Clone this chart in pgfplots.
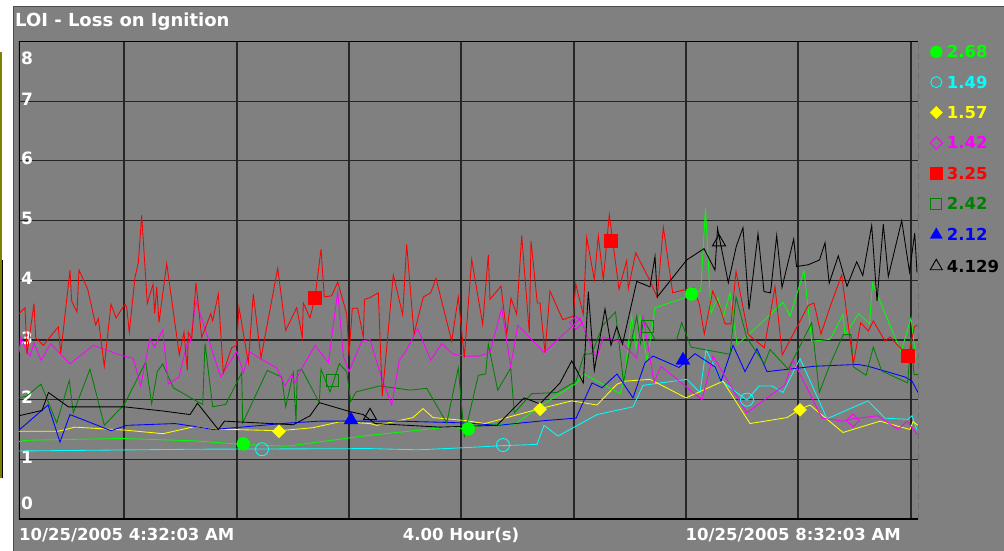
\documentclass[border=0pt]{standalone}
\usepackage{pgfplots}
\pgfplotsset{compat=1.18}
\usepackage{fontspec}
\setmainfont{DejaVu Sans}
\definecolor{bg}{RGB}{128,128,128}
\definecolor{cLime}{RGB}{0,255,0}
\definecolor{cCyan}{RGB}{0,255,255}
\definecolor{cYellow}{RGB}{255,255,0}
\definecolor{cMag}{RGB}{255,0,255}
\definecolor{cRed}{RGB}{255,0,0}
\definecolor{cDkG}{RGB}{0,128,0}
\definecolor{cBlue}{RGB}{0,0,255}
\definecolor{cOlive}{RGB}{128,128,0}
\begin{document}
\begin{tikzpicture}[x=1pt,y=1pt]
\path[use as bounding box] (0,0) rectangle (1004,551);
\fill[white] (0,0) rectangle (1004,551);
\fill[bg] (13,0) rectangle (1004,544);
\draw[black!70, line width=1pt] (13.5,0) -- (13.5,544) -- (1004,544);
\draw[cOlive, line width=2.5pt] (1.2,499) -- (1.2,73);
\draw[black, line width=1pt] (2.6,291) -- (2.6,73);
\node[anchor=west, inner sep=0pt, text=white, font=\bfseries\fontsize{18}{20}\selectfont] at (15,529) {LOI - Loss on Ignition};
\node[anchor=west, inner sep=0pt, text=white, font=\bfseries\fontsize{16.5}{18}\selectfont] at (19,16) {10/25/2005 4:32:03 AM};
\node[inner sep=0pt, text=white, font=\bfseries\fontsize{16.5}{18}\selectfont] at (461,16) {4.00 Hour(s)};
\node[anchor=east, inner sep=0pt, text=white, font=\bfseries\fontsize{16.5}{18}\selectfont] at (901,16) {10/25/2005 8:32:03 AM};
\begin{axis}[at={(19,53.5)}, anchor=south west, scale only axis, width=899pt, height=477.6pt,
  xmin=19, xmax=918, ymin=0, ymax=8,
  axis line style={draw=none},
  xtick={124,237,349,461,574,686,798,911}, ytick={0,1,2,3,4,5,6,7,8},
  xticklabels={}, yticklabels={}, major tick length=0pt,
  grid=major, major grid style={black!85, line width=1.1pt},
  legend style={at={(axis cs:930,7.93)}, anchor=north west, draw=none, fill=none, inner sep=0pt,
    row sep=18.3pt, nodes={inner sep=0pt, text height=12pt, text depth=0pt},
    font=\bfseries\fontsize{16.5}{18}\selectfont,
    /tikz/every odd column/.append style={column sep=4.5pt}},
  legend cell align=left]
\draw[black, line width=1.2pt] (axis cs:19,8) -- (axis cs:19,0) -- (axis cs:918,0);
\draw[black, line width=1.2pt] (axis cs:19,8) -- (axis cs:918,8);
\draw[black, line width=1pt, dash pattern=on 6pt off 4pt] (axis cs:918,0) -- (axis cs:918,8);
\node[anchor=west, inner sep=0pt, text=white, font=\bfseries\fontsize{17}{18}\selectfont] at (axis cs:21,0.27) {0};
\node[anchor=west, inner sep=0pt, text=white, font=\bfseries\fontsize{17}{18}\selectfont] at (axis cs:21,1.035) {1};
\node[anchor=west, inner sep=0pt, text=white, font=\bfseries\fontsize{17}{18}\selectfont] at (axis cs:21,2.035) {2};
\node[anchor=west, inner sep=0pt, text=white, font=\bfseries\fontsize{17}{18}\selectfont] at (axis cs:21,3.035) {3};
\node[anchor=west, inner sep=0pt, text=white, font=\bfseries\fontsize{17}{18}\selectfont] at (axis cs:21,4.035) {4};
\node[anchor=west, inner sep=0pt, text=white, font=\bfseries\fontsize{17}{18}\selectfont] at (axis cs:21,5.035) {5};
\node[anchor=west, inner sep=0pt, text=white, font=\bfseries\fontsize{17}{18}\selectfont] at (axis cs:21,6.035) {6};
\node[anchor=west, inner sep=0pt, text=white, font=\bfseries\fontsize{17}{18}\selectfont] at (axis cs:21,7.035) {7};
\node[anchor=west, inner sep=0pt, text=white, font=\bfseries\fontsize{17}{18}\selectfont] at (axis cs:21,7.72) {8};
% cyan
\addplot[cCyan, line width=0.85pt, forget plot] coordinates {
(19,1.14) (195,1.17) (370,1.18) (418,1.16) (458,1.19) (503,1.23) (537,1.25) (544,1.57) (558,1.39) (597,1.75) (633,1.88) (643,2.24) (687,2.34) (700,2.12) (706,2.84) (721,2.32) (747,1.99) (759,2.23) (772,2.23) (783,2.12) (800,2.69) (827,1.68) (868,1.98) (885,1.69) (908,1.67) (912,1.73) (917,1.49)};
% yellow
\addplot[cYellow, line width=0.85pt, forget plot] coordinates {
(19,1.47) (58,1.47) (75,1.54) (125,1.49) (163,1.43) (195,1.55) (210,1.51) (279,1.48) (313,1.53) (340,1.63) (370,1.60) (377,1.57) (413,1.70) (423,1.85) (433,1.70) (465,1.65) (485,1.60) (540,1.85) (572,1.98) (597,1.91) (617,2.26) (625,2.31) (650,2.34) (686,2.03) (723,2.31) (750,1.60) (787,1.70) (800,1.84) (810,1.91) (843,1.45) (880,1.64) (910,1.50) (913,1.63) (918,1.57)};
% lime
\addplot[cLime, line width=0.85pt, forget plot] coordinates {
(19,1.30) (27,1.32) (122,1.35) (195,1.31) (243,1.25) (287,1.22) (368,1.40) (448,1.54) (468,1.51) (485,1.58) (515,1.59) (543,1.92) (576,2.27) (584,2.43) (620,2.10) (624,2.31) (631.7,3.40) (636,2.85) (640,3.40) (647,2.65) (655,3.54) (680,3.68) (691.7,3.76) (700.7,3.82) (705.5,5.21) (711,3.45) (718,3.71) (723,3.37) (730,3.79) (737,2.92) (757,3.22) (783,3.63) (790,3.40) (804,4.16) (811.7,2.98) (830,3.01) (843,3.43) (845,3.09) (858.5,3.44) (869.5,3.27) (872.5,3.95) (901,2.80) (911,3.37) (916,2.68)};
% blue
\addplot[cBlue, line width=0.85pt, forget plot] coordinates {
(19,1.49) (48,1.91) (60,1.29) (70,1.75) (111,1.48) (127,1.57) (175,1.60) (195,1.55) (213,1.50) (290,1.61) (320,1.64) (351,1.64) (400,1.64) (465,1.61) (498,1.57) (545,1.65) (576,1.69) (592,2.28) (602,2.20) (617,2.43) (633,2.03) (645,2.62) (653,2.73) (679,2.54) (695,2.77) (715,2.55) (721,2.31) (733,2.91) (745,2.47) (757,2.85) (767,2.47) (815,2.56) (858,2.59) (868,2.56) (905,2.38) (912,2.31) (918,2.12)};
% dark green
\addplot[cDkG, line width=0.85pt, forget plot] coordinates {
(19,2.03) (26.7,2.06) (41,2.26) (56.7,1.61) (69.3,2.32) (73.3,1.78) (90,2.51) (104.3,1.57) (124.3,1.92) (145.7,2.63) (151.7,1.93) (157.3,2.47) (162.7,2.60) (173.3,2.20) (195,1.99) (202.7,1.92) (205,2.94) (212.7,1.88) (225.7,1.92) (241.7,2.45) (242.7,1.61) (267.3,2.49) (281.7,2.38) (285.7,1.88) (293.3,2.45) (296,1.63) (297.3,2.48) (301.7,2.51) (319.3,1.95) (321,2.51) (330,2.13) (339.3,2.60) (346.7,2.47) (350.7,1.97) (356,2.13) (380,2.23) (410,2.16) (426.7,2.19) (446.7,1.61) (458.3,2.53) (464.3,1.39) (478.3,2.41) (485.7,2.43) (488.3,2.93) (497.7,2.16) (510.7,2.53) (514.3,1.78) (531.7,2.10) (556.7,2.12) (576,2.31) (584,2.76) (591.7,2.77) (603,3.25) (615.5,3.47) (623.5,2.29) (630,2.87) (636.7,3.40) (640.5,2.95) (643.3,3.34) (655,3.01) (676.7,3.01) (681.7,3.29) (691,2.88) (730,2.76) (736,3.72) (746.7,3.04) (764.3,2.60) (770,2.84) (788.3,2.51) (811.7,3.29) (819.3,2.12) (830,2.59) (843.3,3.09) (851,3.09) (853.3,2.55) (866,2.41) (873.3,2.88) (881.7,2.48) (907.7,2.28) (911,3.05) (914,2.42) (918,2.42)};
% magenta
\addplot[cMag, line width=0.85pt, forget plot] coordinates {
(19,2.79) (21,3.05) (25,2.87) (30,2.73) (34,2.95) (41,2.66) (50.7,2.94) (60.7,2.76) (70,2.60) (93.3,2.91) (120,2.75) (133.3,2.69) (140.7,2.23) (150,3.03) (154.3,2.88) (162.7,3.17) (168.3,2.26) (179,2.38) (187.7,2.98) (190,2.95) (196,3.65) (220.7,2.38) (236.7,2.81) (243.3,2.45) (249.3,2.80) (276.7,2.53) (285,2.23) (291.7,2.42) (295,2.28) (300,2.47) (315,2.91) (328.3,2.62) (337.7,3.81) (343.3,2.73) (349,2.47) (361.7,2.98) (370,3.01) (381,2.40) (391.7,1.91) (399.3,2.66) (405,2.79) (417.7,3.19) (430.7,2.66) (441.7,2.94) (453.3,2.76) (465,2.73) (478.3,2.73) (490,2.79) (501.7,3.53) (510.7,2.55) (517.7,3.25) (544,2.79) (576,3.29) (580,3.37) (593.3,2.81) (596.7,2.70) (603.3,3.05) (620,2.98) (636.7,2.70) (643,3.40) (654,2.29) (661,2.56) (702,2.00) (713,2.73) (746.7,1.78) (785,2.25) (793,2.66) (822,1.69) (843,1.64) (853,1.68) (878,1.73) (898,1.50) (907,1.64) (917,1.42)};
% red
\addplot[cRed, line width=0.85pt, forget plot] coordinates {
(19,3.44) (25,3.54) (27,2.76) (34,3.61) (35.7,3.04) (43.3,2.91) (58.3,3.22) (60.7,2.77) (70,4.17) (71.7,3.65) (77,3.47) (79,4.17) (87.7,3.85) (95.7,3.25) (98.3,3.36) (104.3,2.56) (111,3.60) (116,3.37) (125,3.60) (126.7,3.55) (129.3,3.13) (135,4.05) (138.3,4.29) (141.7,5.09) (147.3,3.61) (153,3.93) (154.7,3.44) (156.7,3.89) (159,3.29) (166.7,4.28) (179.3,2.75) (184,3.13) (187.3,2.49) (188.3,3.13) (191.7,3.01) (196,3.96) (201.7,3.04) (210.7,3.44) (212.7,3.32) (218.3,3.77) (223.3,2.45) (231.7,2.87) (236.7,2.91) (239,3.55) (248.3,2.62) (253.3,3.77) (261,2.70) (277.7,4.20) (285.7,3.16) (296.7,3.54) (302.3,3.04) (303.3,3.62) (310,3.37) (315,3.71) (321,4.52) (324.3,3.72) (331.7,3.74) (337.7,3.97) (346.7,3.44) (349,2.73) (352.3,3.53) (357.7,3.53) (363.3,3.05) (364.5,3.68) (370,3.71) (378.3,3.79) (382.3,2.06) (393.3,4.09) (402.7,3.42) (406.7,4.60) (414,3.10) (423.3,3.72) (430.7,3.79) (436,4.03) (451.7,2.98) (458.3,3.72) (464.3,2.71) (471.7,4.35) (482.7,3.26) (488.3,4.43) (490,3.68) (501,3.90) (506.7,3.09) (511,3.70) (516.7,3.43) (521.7,4.75) (529.3,3.12) (531,4.66) (537.3,3.62) (540,3.62) (545,2.79) (550,3.82) (562.7,3.34) (573.3,3.40) (575.7,3.94) (583.3,3.43) (586.7,4.72) (594.3,4.01) (598.3,4.74) (603.3,4.01) (609.3,5.10) (619,3.85) (626.7,4.33) (628.3,3.86) (635.7,4.46) (650,3.99) (657.3,3.71) (663.3,4.89) (672.7,3.79) (693.3,3.88) (699.3,3.60) (704.3,3.10) (712.7,3.82) (720,3.54) (725,3.27) (731,3.27) (736,4.15) (748.3,3.09) (764.3,2.87) (775,3.89) (782.3,2.75) (808.3,3.58) (814,3.62) (821,3.10) (831,3.60) (841.7,4.09) (853.3,2.59) (860.7,3.29) (868.3,3.15) (873.3,3.32) (885,2.98) (890,3.05) (901.7,2.84) (908.3,2.71) (914.3,3.22) (917,3.25)};
% black
\addplot[black, line width=0.85pt, forget plot] coordinates {
(19,1.73) (42,1.82) (48.5,2.12) (68.3,1.88) (124,1.88) (163,1.81) (190,1.75) (197.5,1.94) (218.3,1.50) (224.5,1.64) (293.3,1.58) (310,1.73) (319.3,1.95) (350,1.80) (363.3,1.75) (375,1.60) (440,1.54) (497,1.57) (524,2.03) (540,1.93) (560,2.28) (571.7,2.65) (583.3,2.28) (588.3,3.81) (594.3,2.49) (605,3.52) (611,2.91) (616.7,3.22) (622.5,2.93) (636.7,3.98) (650,3.89) (655,4.40) (657.3,3.72) (686.7,4.34) (704,4.53) (715,4.17) (717.5,4.87) (728.3,3.96) (736.3,4.57) (743,4.88) (749,3.51) (758,4.78) (764,3.81) (770.5,3.79) (776.7,4.75) (782,3.88) (793.7,4.69) (796.5,4.23) (808.3,4.26) (819.5,4.34) (825,4.63) (829.2,3.95) (838.3,4.41) (847,3.90) (856.7,4.31) (862.8,4.08) (871.7,4.92) (877,3.65) (883.3,4.94) (888.3,4.06) (901.7,5.00) (909.5,4.14) (914.7,4.79) (917,4.13)};
% markers on the lines
\addplot[only marks, mark=*, cLime, mark size=6.5pt, forget plot] coordinates {(243.3,1.26) (468.3,1.51) (691.5,3.77)};
\addplot[only marks, mark=o, cCyan, mark size=6.5pt, line width=0.9pt, forget plot] coordinates {(262,1.17) (503,1.24) (747,2.00)};
\addplot[only marks, mark=square*, cYellow, mark size=4.6pt, mark options={rotate=45}, forget plot] coordinates {(279,1.47) (540,1.84) (800,1.83)};
\addplot[only marks, mark=square, cMag, mark size=4.6pt, line width=0.9pt, mark options={rotate=45}, forget plot] coordinates {(576,3.29) (853,1.65)};
\addplot[only marks, mark=square*, cRed, mark size=6.5pt, forget plot] coordinates {(315,3.71) (611,4.67) (908,2.73)};
\addplot[only marks, mark=square, cDkG, mark size=6pt, line width=0.9pt, forget plot] coordinates {(332,2.33) (647,3.23)};
\addplot[only marks, mark=triangle*, cBlue, mark size=8pt, forget plot] coordinates {(351,1.66) (683,2.66)};
\addplot[only marks, mark=triangle, black, mark size=7.5pt, line width=0.9pt, forget plot] coordinates {(370,1.73) (719,4.64)};
% legend
\addlegendimage{only marks, mark=*, cLime, mark size=6pt}
\addlegendentry{\textcolor{cLime}{2.68}}
\addlegendimage{only marks, mark=o, cCyan, mark size=5.5pt, line width=0.9pt}
\addlegendentry{\textcolor{cCyan}{1.49}}
\addlegendimage{only marks, mark=square*, cYellow, mark size=4.3pt, mark options={rotate=45}}
\addlegendentry{\textcolor{cYellow}{1.57}}
\addlegendimage{only marks, mark=square, cMag, mark size=4.3pt, line width=0.9pt, mark options={rotate=45}}
\addlegendentry{\textcolor{cMag}{1.42}}
\addlegendimage{only marks, mark=square*, cRed, mark size=6pt}
\addlegendentry{\textcolor{cRed}{3.25}}
\addlegendimage{only marks, mark=square, cDkG, mark size=5.5pt, line width=0.9pt}
\addlegendentry{\textcolor{cDkG}{2.42}}
\addlegendimage{only marks, mark=triangle*, cBlue, mark size=7pt}
\addlegendentry{\textcolor{cBlue}{2.12}}
\addlegendimage{only marks, mark=triangle, black, mark size=7pt, line width=0.9pt}
\addlegendentry{\textcolor{black}{4.129}}
\end{axis}
\end{tikzpicture}
\end{document}
